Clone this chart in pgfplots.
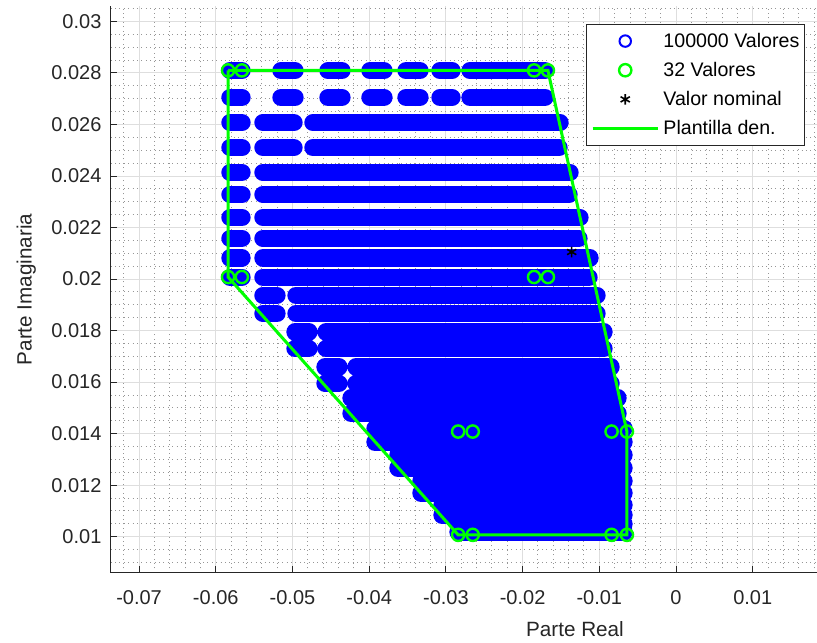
\documentclass[border=0pt]{standalone}
\usepackage{pgfplots}
\pgfplotsset{compat=1.18}
\usepackage{fontspec}
\setmainfont{Liberation Sans}
\definecolor{axgray}{RGB}{38,38,38}
\definecolor{gridgray}{RGB}{222,222,222}
\definecolor{minorgray}{RGB}{150,150,150}
\definecolor{mblue}{RGB}{0,0,255}
\definecolor{mgreen}{RGB}{0,255,0}
\pgfplotsset{
  markleg/.style={legend image code/.code={\path (-2pt,0pt); \draw[##1] plot coordinates {(24.4pt,0pt)};}},
  lineleg/.style={legend image code/.code={\path (-2pt,0pt); \draw[##1] (0pt,0pt) -- (48.75pt,0pt);}},
}
\begin{document}
\begin{tikzpicture}
\begin{axis}[
  at={(0pt,0pt)}, anchor=south west,
  scale only axis, width=529.7pt, height=425pt,
  xmin=-0.0737, xmax=0.01838, ymin=0.0086, ymax=0.0306,
  axis lines*=left,
  axis line style={axgray, line width=0.75pt},
  tick align=inside,
  major tick length=5pt, minor tick length=0pt,
  tick style={axgray, line width=0.75pt},
  xtick={-0.07,-0.06,-0.05,-0.04,-0.03,-0.02,-0.01,0,0.01},
  xticklabels={-0.07,-0.06,-0.05,-0.04,-0.03,-0.02,-0.01,0,0.01},
  ytick={0.01,0.012,0.014,0.016,0.018,0.02,0.022,0.024,0.026,0.028,0.03},
  yticklabels={0.01,0.012,0.014,0.016,0.018,0.02,0.022,0.024,0.026,0.028,0.03},
  minor xtick={-0.072,-0.068,-0.066,-0.064,-0.062,-0.058,-0.056,-0.054,-0.052,-0.048,-0.046,-0.044,-0.042,-0.038,-0.036,-0.034,-0.032,-0.028,-0.026,-0.024,-0.022,-0.018,-0.016,-0.014,-0.012,-0.008,-0.006,-0.004,-0.002,0.002,0.004,0.006,0.008,0.012,0.014,0.016,0.018},
  minor ytick={0.009,0.0095,0.0105,0.011,0.0115,0.0125,0.013,0.0135,0.0145,0.015,0.0155,0.0165,0.017,0.0175,0.0185,0.019,0.0195,0.0205,0.021,0.0215,0.0225,0.023,0.0235,0.0245,0.025,0.0255,0.0265,0.027,0.0275,0.0285,0.029,0.0295,0.0305},
  grid=both,
  major grid style={gridgray, line width=0.75pt},
  minor grid style={minorgray, line width=0.7pt, dash pattern=on 0.7pt off 2.6pt},
  tick label style={font=\fontsize{15}{18}\selectfont, text=axgray},
  xticklabel style={anchor=base, inner sep=0pt, yshift=-24.2pt},
  yticklabel style={anchor=east, inner sep=0pt, xshift=-6.75pt},
  xlabel={Parte Real}, ylabel={Parte Imaginaria},
  label style={font=\fontsize{15.5}{18}\selectfont, text=axgray},
  xlabel style={at={(axis description cs:0.6574,0)}, anchor=base, yshift=-48.2pt},
  ylabel style={at={(axis description cs:-0.1196,0.5)}, anchor=center},
  legend style={at={(axis description cs:0.6730,0.9682)}, anchor=north west,
    draw=axgray, line width=0.75pt, fill=white,
    font=\fontsize{14.7}{17}\selectfont, text=black,
    inner xsep=1.5pt, inner ysep=4.35pt,
    nodes={inner xsep=2pt, inner ysep=2pt},
    row sep=5.7pt,
    /tikz/every odd column/.append style={column sep=1.2pt}},
  legend cell align=left,
]
% 100000 Valores: dense overlapping circles, drawn row by row as bands
\addplot[mblue, line width=13pt, line cap=round, unbounded coords=jump, forget plot] coordinates {
 (-0.05815,0.02809) (-0.05658,0.02809) (nan,nan)
 (-0.05150,0.02809) (-0.04967,0.02809) (nan,nan)
 (-0.04537,0.02809) (-0.04355,0.02809) (nan,nan)
 (-0.03990,0.02809) (-0.03807,0.02809) (nan,nan)
 (-0.03520,0.02809) (-0.03338,0.02809) (nan,nan)
 (-0.03077,0.02809) (-0.02920,0.02809) (nan,nan)
 (-0.02686,0.02809) (-0.01708,0.02809) (nan,nan)
 (-0.05815,0.02705) (-0.05658,0.02705) (nan,nan)
 (-0.05150,0.02705) (-0.04967,0.02705) (nan,nan)
 (-0.04537,0.02705) (-0.04355,0.02705) (nan,nan)
 (-0.03990,0.02705) (-0.03807,0.02705) (nan,nan)
 (-0.03520,0.02705) (-0.03338,0.02705) (nan,nan)
 (-0.03077,0.02705) (-0.02920,0.02705) (nan,nan)
 (-0.02686,0.02705) (-0.01708,0.02705) (nan,nan)
 (-0.05815,0.02607) (-0.05658,0.02607) (nan,nan)
 (-0.05385,0.02607) (-0.04980,0.02607) (nan,nan)
 (-0.04733,0.02607) (-0.01512,0.02607) (nan,nan)
 (-0.05815,0.02510) (-0.05658,0.02510) (nan,nan)
 (-0.05385,0.02510) (-0.04980,0.02510) (nan,nan)
 (-0.04733,0.02510) (-0.01525,0.02510) (nan,nan)
 (-0.05815,0.02414) (-0.05658,0.02414) (nan,nan)
 (-0.05385,0.02414) (-0.01382,0.02414) (nan,nan)
 (-0.05815,0.02328) (-0.05658,0.02328) (nan,nan)
 (-0.05385,0.02328) (-0.01395,0.02328) (nan,nan)
 (-0.05815,0.02239) (-0.05658,0.02239) (nan,nan)
 (-0.05385,0.02239) (-0.01252,0.02239) (nan,nan)
 (-0.05815,0.02158) (-0.05658,0.02158) (nan,nan)
 (-0.05385,0.02158) (-0.01265,0.02158) (nan,nan)
 (-0.05815,0.02082) (-0.05658,0.02082) (nan,nan)
 (-0.05385,0.02082) (-0.01121,0.02082) (nan,nan)
 (-0.05815,0.02007) (-0.05658,0.02007) (nan,nan)
 (-0.05385,0.02007) (-0.01134,0.02007) (nan,nan)
 (-0.05385,0.01937) (-0.05202,0.01937) (nan,nan)
 (-0.04954,0.01937) (-0.01030,0.01937) (nan,nan)
 (-0.05385,0.01866) (-0.05202,0.01866) (nan,nan)
 (-0.04954,0.01866) (-0.01030,0.01866) (nan,nan)
 (-0.04967,0.01795) (-0.04785,0.01795) (nan,nan)
 (-0.04563,0.01795) (-0.00939,0.01795) (nan,nan)
 (-0.04967,0.01730) (-0.04785,0.01730) (nan,nan)
 (-0.04563,0.01730) (-0.00939,0.01730) (nan,nan)
 (-0.04576,0.01659) (-0.04394,0.01659) (nan,nan)
 (-0.04172,0.01659) (-0.00847,0.01659) (nan,nan)
 (-0.04576,0.01595) (-0.04394,0.01595) (nan,nan)
 (-0.04172,0.01595) (-0.00847,0.01595) (nan,nan)
 (-0.04237,0.01538) (-0.00756,0.01538) (nan,nan)
 (-0.04237,0.01479) (-0.00756,0.01479) (nan,nan)
 (-0.03924,0.01421) (-0.00678,0.01421) (nan,nan)
 (-0.03924,0.01367) (-0.00678,0.01367) (nan,nan)
 (-0.03625,0.01317) (-0.00678,0.01317) (nan,nan)
 (-0.03625,0.01266) (-0.00678,0.01266) (nan,nan)
 (-0.03325,0.01216) (-0.00678,0.01216) (nan,nan)
 (-0.03325,0.01169) (-0.00678,0.01169) (nan,nan)
 (-0.03051,0.01123) (-0.00678,0.01123) (nan,nan)
 (-0.03051,0.01084) (-0.00678,0.01084) (nan,nan)
 (-0.02842,0.01049) (-0.00678,0.01049) (nan,nan)
 (-0.02842,0.01018) (-0.00678,0.01018)
};
\addlegendimage{only marks, mark=o, mblue, mark size=4.3pt, mark options={line width=1.5pt}, markleg}
\addlegendentry{100000 Valores}
\addplot[only marks, mark=o, mgreen, mark size=4.6pt, mark options={line width=1.8pt}, markleg] coordinates {
 (-0.0584,0.0281) (-0.0566,0.0281) (-0.0185,0.0281) (-0.0167,0.0281)
 (-0.0584,0.02008) (-0.0566,0.02008) (-0.0185,0.02008) (-0.0167,0.02008)
 (-0.0284,0.01408) (-0.0265,0.01408) (-0.0084,0.01408) (-0.0064,0.01408)
 (-0.0284,0.01007) (-0.0265,0.01007) (-0.0084,0.01007) (-0.0064,0.01007)
};
\addlegendentry{32 Valores}
\addplot[only marks, mark=asterisk, black, mark size=4pt, mark options={line width=1.2pt}, markleg] coordinates {(-0.0136,0.02105)};
\addlegendentry{Valor nominal}
\addplot[mgreen, line width=2.25pt, lineleg] coordinates {
 (-0.0584,0.0281) (-0.0167,0.0281) (-0.0064,0.01408) (-0.0064,0.01007)
 (-0.0284,0.01007) (-0.0584,0.02008) (-0.0584,0.0281)
};
\addlegendentry{Plantilla den.}
\end{axis}
\pgfresetboundingbox
\path[use as bounding box] (-83.0pt,-52.7pt) rectangle (529.7pt,429.5pt);
\end{tikzpicture}
\end{document}
